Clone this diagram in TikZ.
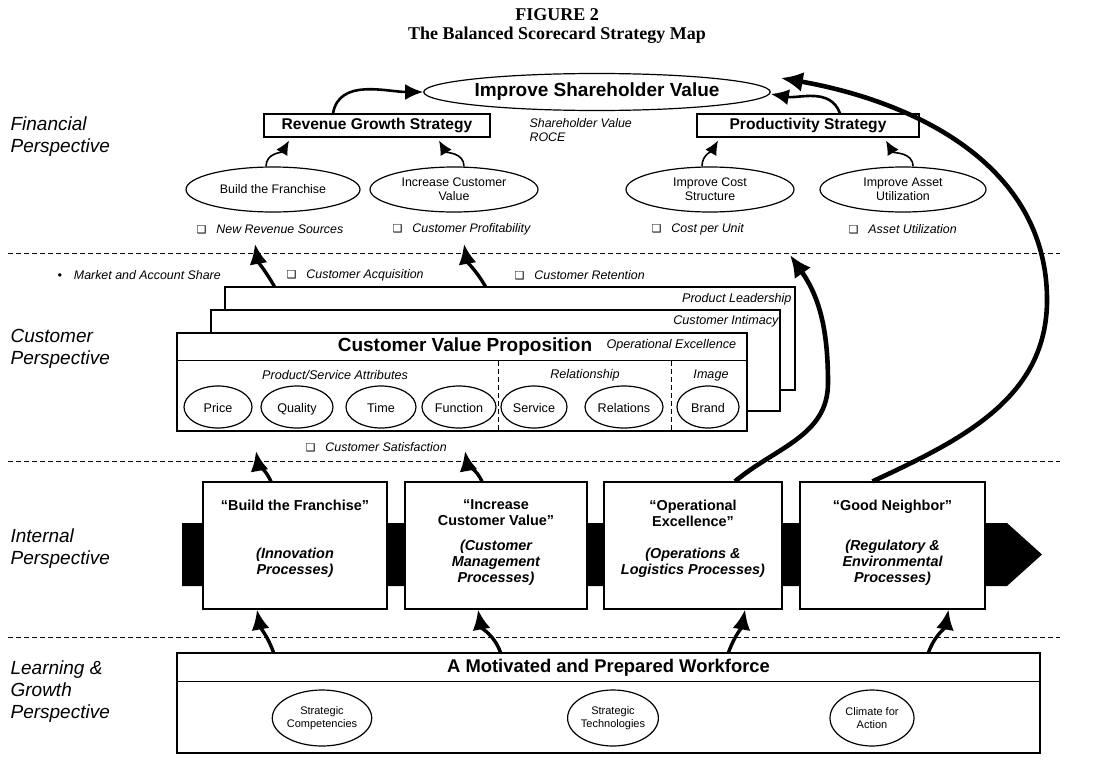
\documentclass[tikz,border=0pt]{standalone}
\usepackage{fontspec}
\setmainfont{Liberation Sans}
\newfontfamily\headfont{Liberation Serif}
\newfontfamily\dingfont{DejaVu Sans}
\usetikzlibrary{shapes.geometric, arrows.meta}

\newcommand{\chk}{{\upshape\dingfont\fontsize{5.5}{6}\selectfont ❑}\hspace{5pt}}

\begin{document}
\begin{tikzpicture}[x=0.5pt, y=0.5pt, line width=0.6pt,
  every node/.style={inner sep=0pt},
  ttl/.style={font=\headfont\bfseries\fontsize{9}{11}\selectfont},
  persp/.style={anchor=west, align=left, font=\itshape\fontsize{9.5}{11}\selectfont},
  goal/.style={draw, ellipse, minimum height=18.5pt, font=\bfseries\fontsize{9.5}{11}\selectfont},
  strat/.style={draw, minimum height=11.5pt, font=\bfseries\fontsize{7.8}{9}\selectfont},
  obj/.style={draw, ellipse, minimum height=22.5pt, align=center, font=\fontsize{6.2}{7}\selectfont},
  meas/.style={anchor=west, font=\itshape\fontsize{6.2}{7}\selectfont},
  card/.style={draw, fill=white, minimum width=285pt},
  cardlbl/.style={font=\itshape\fontsize{6.3}{7}\selectfont},
  attr/.style={draw, ellipse, minimum height=21pt, text height=0.72em, text depth=0.2em, font=\fontsize{6.3}{7}\selectfont},
  subhead/.style={font=\itshape\fontsize{6.3}{7}\selectfont},
  proc/.style={draw, fill=white, minimum height=63.5pt},
  qt/.style={anchor=north, align=center, font=\bfseries\fontsize{7.2}{8}\selectfont},
  pr/.style={align=center, font=\bfseries\itshape\fontsize{7.2}{8}\selectfont},
  comp/.style={draw, ellipse, minimum width=44pt, minimum height=28pt, align=center, font=\fontsize{5.5}{6.3}\selectfont},
  divider/.style={dash pattern=on 2.5pt off 1.5pt, line width=0.5pt},
  thin arrow/.style={line width=0.8pt, -{Latex[length=7pt,width=6.5pt]}},
  mid arrow/.style={line width=1.3pt, -{Latex[length=9pt,width=8pt]}},
  fat arrow/.style={line width=1.7pt, -{Latex[length=10pt,width=9pt]}},
  big arrow/.style={line width=2.3pt, -{Latex[length=11pt,width=10pt]}}
]
  \useasboundingbox (0,0) rectangle (1108,-760);

  % Title
  \node[ttl] (fig) at (557,-15) {FIGURE 2};
  \node[ttl] (ttl2) at (557,-35) {The Balanced Scorecard Strategy Map};

  % Perspectives
  \node[persp] (fin) at (10,-137) {Financial\\Perspective};
  \node[persp] (cus) at (10,-349) {Customer\\Perspective};
  \node[persp] (int) at (10,-549) {Internal\\Perspective};
  \node[persp] (lrn) at (10,-692) {Learning \&\\Growth\\Perspective};

  \draw[divider] (8,-253) -- (1060,-253);
  \draw[divider] (8,-461) -- (1060,-461);
  \draw[divider] (8,-637) -- (1060,-637);

  % Financial perspective
  \node[goal, minimum width=170pt] (isv) at (597,-92) {Improve Shareholder Value};
  \node[strat, minimum width=113pt] (rgs) at (377,-125.5) {Revenue Growth Strategy};
  \node[strat, minimum width=111pt] (ps) at (808,-125.5) {Productivity Strategy};
  \node[anchor=north west, align=left, font=\itshape\fontsize{6.2}{6.8}\selectfont] (roce) at (529,-118) {Shareholder Value\\ROCE};
  \node[obj, minimum width=87pt] (bf) at (273,-189.5) {Build the Franchise};
  \node[obj, minimum width=84pt] (icv) at (454,-189.5) {Increase Customer\\Value};
  \node[obj, minimum width=84pt] (ics) at (710,-189.5) {Improve Cost\\Structure};
  \node[obj, minimum width=83pt] (iau) at (903,-189.5) {Improve Asset\\Utilization};
  \node[meas] (nrs) at (196,-229) {\chk New Revenue Sources};
  \node[meas] (cpr) at (392,-229) {\chk Customer Profitability};
  \node[meas] (cpu) at (651,-229) {\chk Cost per Unit};
  \node[meas] (aut) at (848,-229) {\chk Asset Utilization};

  \draw[thin arrow] ([xshift=-3.5pt]bf.north) to[out=90,in=-120] ([xshift=-44pt,yshift=-1.5pt]rgs.south);
  \draw[thin arrow] ([xshift=5pt]icv.north) to[out=90,in=-60] ([xshift=31pt,yshift=-1.5pt]rgs.south);
  \draw[thin arrow] ([xshift=-4pt]ics.north) to[out=90,in=-120] ([xshift=-45pt,yshift=-1.5pt]ps.south);
  \draw[thin arrow] ([xshift=5pt]iau.north) to[out=90,in=-60] ([xshift=39pt,yshift=-1.5pt]ps.south);
  \draw[mid arrow] ([xshift=-22pt]rgs.north) to[out=80,in=180] (isv.west);
  \draw[mid arrow] ([xshift=16pt]ps.north) to[out=110,in=-10] ([yshift=-1pt]isv.east);

  % Customer perspective
  \node[meas] (mas) at (57,-275) {•\hspace{6pt}Market and Account Share};
  \node[meas] (cac) at (286,-275) {\chk Customer Acquisition};
  \node[meas] (cre) at (514,-275) {\chk Customer Retention};

  \node[card, minimum height=51.5pt] (pl) at (510,-338.5) {};
  \node[card, minimum width=284.5pt, minimum height=50.5pt] (ci) at (495.5,-360.5) {};
  \node[card, minimum height=49pt] (cvp) at (462,-382) {};
  \draw ([yshift=-14pt]cvp.north west) -- ([yshift=-14pt]cvp.north east);
  \draw[divider] (498,-361) -- (498,-431);
  \draw[divider] (671,-361) -- (671,-431);

  \node[cardlbl, anchor=east] (pll) at (792,-299) {Product Leadership};
  \node[cardlbl, anchor=east] (cil) at (779,-321) {Customer Intimacy};
  \node[cardlbl, anchor=west] (oel) at (606,-345) {Operational Excellence};
  \node[font=\bfseries\fontsize{9.5}{11}\selectfont] (cvpt) at (465,-347) {Customer Value Proposition};
  \node[subhead] (psa) at (335,-375) {Product/Service Attributes};
  \node[subhead] (rel) at (585,-375) {Relationship};
  \node[subhead] (img) at (711,-375) {Image};

  \node[attr, minimum width=34pt] (pri) at (218,-407) {Price};
  \node[attr, minimum width=36pt] (qua) at (297,-407) {Quality};
  \node[attr, minimum width=35pt] (tim) at (381,-407) {Time};
  \node[attr, minimum width=37pt] (fun) at (459,-407) {Function};
  \node[attr, minimum width=33pt] (ser) at (534,-407) {Service};
  \node[attr, minimum width=39pt] (rln) at (624,-407) {Relations};
  \node[attr, minimum width=31pt] (bra) at (708,-407) {Brand};
  \node[meas] (csa) at (305,-447) {\chk Customer Satisfaction};

  \coordinate (t1) at (255,-244);
  \coordinate (t2) at (464,-244);
  \draw[fat arrow] ([xshift=25pt]pl.north west) to[out=120,in=-80] (t1);
  \draw[fat arrow] ([xshift=130.5pt]pl.north west) to[out=120,in=-80] (t2);

  % Internal perspective
  \fill (182,-523) -- (1007,-523) -- (1042,-554.5) -- (1007,-586) -- (182,-586) -- cycle;
  \node[proc, minimum width=92pt] (b1) at (295,-545.5) {};
  \node[proc, minimum width=91pt] (b2) at (496,-545.5) {};
  \node[proc, minimum width=89pt] (b3) at (693,-545.5) {};
  \node[proc, minimum width=92.5pt] (b4) at (892.5,-545.5) {};
  \node[qt] (b1q) at ([yshift=-9pt]b1.north) {“Build the Franchise”};
  \node[pr] (b1p) at ([yshift=-8.5pt]b1.center) {(Innovation\\Processes)};
  \node[qt] (b2q) at ([yshift=-9pt]b2.north) {“Increase\\Customer Value”};
  \node[pr] (b2p) at ([yshift=-8.5pt]b2.center) {(Customer\\Management\\Processes)};
  \node[qt] (b3q) at ([yshift=-9pt]b3.north) {“Operational\\Excellence”};
  \node[pr] (b3p) at ([yshift=-8.5pt]b3.center) {(Operations \&\\Logistics Processes)};
  \node[qt] (b4q) at ([yshift=-9pt]b4.north) {“Good Neighbor”};
  \node[pr] (b4p) at ([yshift=-8.5pt]b4.center) {(Regulatory \&\\Environmental\\Processes)};

  \coordinate (t3) at (256,-451);
  \coordinate (t4) at (465,-451);
  \draw[fat arrow] ([xshift=-12pt]b1.north) to[out=115,in=-80] (t3);
  \draw[fat arrow] ([xshift=-7pt]b2.north) to[out=115,in=-80] (t4);

  \coordinate (opbend) at (828,-383);
  \coordinate (optip) at (790,-255);
  \draw[big arrow] ([xshift=21pt]b3.north) to[out=40,in=-90] (opbend) to[out=90,in=-55] (optip);
  \coordinate (gnbend) at (1047,-300);
  \draw[big arrow] ([xshift=-10pt]b4.north) to[out=25,in=-90] (gnbend) to[out=90,in=-10] ([xshift=5pt,yshift=7pt]isv.east);

  % Learning & growth perspective
  \node[draw, minimum width=431.5pt, minimum height=50pt] (lw) at (608.5,-703) {};
  \draw ([yshift=-14.5pt]lw.north west) -- ([yshift=-14.5pt]lw.north east);
  \node[font=\bfseries\fontsize{9.2}{11}\selectfont] (lwt) at (608.5,-668) {A Motivated and Prepared Workforce};
  \node[comp] (sc) at (322,-718) {Strategic\\Competencies};
  \node[comp] (st) at (613,-718) {Strategic\\Technologies};
  \node[comp, minimum width=42pt] (cfa) at (872,-718) {Climate for\\Action};

  \draw[fat arrow] ([xshift=-167.5pt]lw.north) to[out=110,in=-80] ([xshift=-19pt]b1.south);
  \draw[fat arrow] ([xshift=-54pt]lw.north) to[out=110,in=-80] ([xshift=-9pt]b2.south);
  \draw[fat arrow] ([xshift=60pt]lw.north) to[out=70,in=-100] ([xshift=26pt]b3.south);
  \draw[fat arrow] ([xshift=160pt]lw.north) to[out=70,in=-100] ([xshift=28pt]b4.south);
\end{tikzpicture}
\end{document}
